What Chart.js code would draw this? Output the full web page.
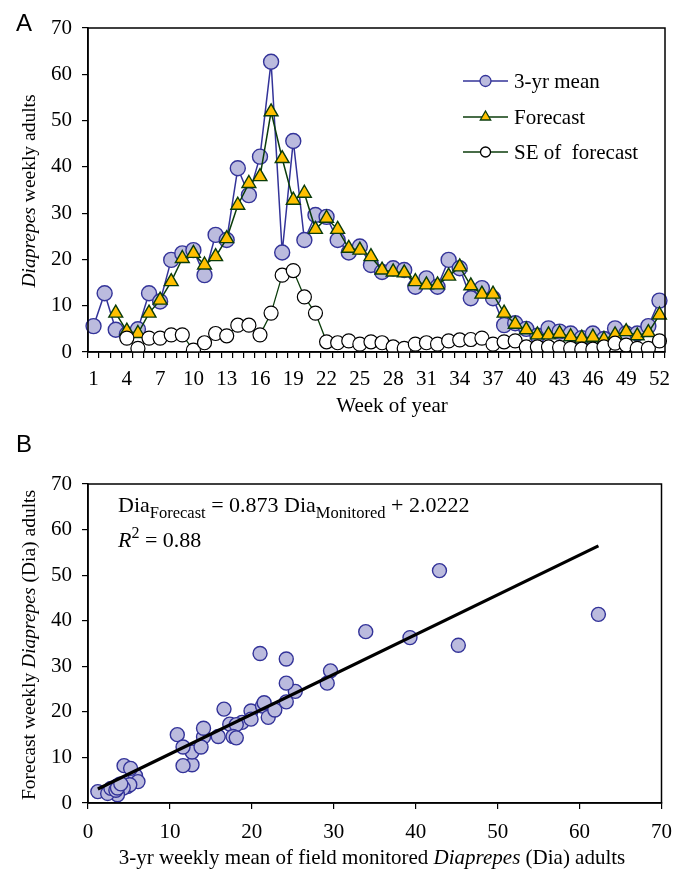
<!DOCTYPE html>
<html><head><meta charset="utf-8">
<script src="https://cdn.jsdelivr.net/npm/chart.js@4.4.1/dist/chart.umd.min.js"></script>
<style>
html,body{margin:0;padding:0;background:#fff;width:683px;height:869px;overflow:hidden}
#ca{position:absolute;left:0;top:0}
#cb{position:absolute;left:0;top:430px}
</style></head><body>
<canvas id="ca" width="683" height="430"></canvas>
<canvas id="cb" width="683" height="439"></canvas>
<script>
// ---------- DATA ----------
const weeks = ['1','2','3','4','5','6','7','8','9','10','11','12','13','14','15','16','17','18','19','20','21','22','23','24','25','26','27','28','29','30','31','32','33','34','35','36','37','38','39','40','41','42','43','44','45','46','47','48','49','50','51','52'];
const weekTickLabels = ['1','4','7','10','13','16','19','22','25','28','31','34','37','40','43','46','49','52'];
const mean3yr = [5.6,12.7,4.8,3.8,4.9,12.7,10.9,19.9,21.3,22.0,16.6,25.3,24.2,39.7,33.9,42.2,62.7,21.5,45.6,24.2,29.6,29.2,24.2,21.5,22.8,18.8,17.3,18.1,17.7,14.1,15.9,14.1,19.9,18.1,11.6,13.8,11.6,5.8,6.2,5.0,3.5,5.1,4.4,4.0,3.0,4.0,2.8,5.1,4.0,4.0,5.6,11.1];
const forecast = [null,null,8.4,4.5,4.0,8.4,11.2,15.2,20.2,21.3,18.8,20.6,24.5,31.7,36.4,37.9,51.9,41.8,32.8,34.3,26.5,28.9,26.5,22.4,22.0,20.6,17.7,17.3,17.1,15.2,14.5,14.5,16.4,18.4,14.3,12.5,12.5,8.4,6.0,4.8,3.7,3.7,4.0,3.3,3.0,3.2,2.7,3.7,4.4,3.5,4.2,8.0];
const seForecast = [null,null,null,3.0,0.8,3.0,3.0,3.7,3.7,0.4,2.0,4.0,3.5,5.8,5.8,3.7,8.4,16.6,17.6,11.9,8.4,2.2,2.0,2.4,1.7,2.2,2.0,1.1,0.8,1.7,2.0,1.7,2.4,2.6,2.7,3.0,1.7,2.2,2.4,1.1,1.1,1.1,1.0,0.8,0.6,0.6,1.1,1.9,1.5,0.8,0.8,2.4];
const yTicksA = [0,10,20,30,40,50,60,70];

// Panel B: monitored 3-yr weekly mean (x) vs forecast (y)
const monitoredB = [12.7,4.8,3.8,4.4,12.7,10.9,19.9,21.3,22.0,16.6,25.3,24.2,39.3,33.9,42.9,62.3,21.0,45.2,24.2,29.6,29.2,24.2,21.5,22.8,18.8,17.3,18.1,17.7,14.1,15.9,14.1,19.9,18.1,11.6,13.8,11.6,5.8,6.1,4.8,3.5,5.1,4.3,3.6,1.2,2.4,2.8,3.4,3.6,4.0,5.2];
const forecastB  = [8.4,4.5,4.0,8.2,11.2,15.0,20.2,21.3,18.8,20.6,24.5,31.6,36.3,37.6,51.0,41.4,32.8,34.6,26.3,29.0,26.3,22.2,22.0,20.4,17.7,17.3,17.2,14.6,14.5,14.6,16.4,18.4,14.3,12.3,12.3,8.2,6.0,4.7,3.6,3.7,4.0,3.3,1.8,2.5,2.1,3.2,2.8,3.3,4.2,7.6];
const fitSlope = 0.873, fitIntercept = 2.0222;
const axisTicksB = [0,10,20,30,40,50,60,70];

// ---------- STYLE ----------
const SERIF = "'Liberation Serif','Times New Roman',serif";
const SANS = "'Liberation Sans',Arial,sans-serif";
const FS = 21;
const FS_V = 19.5;
const MEAN_LINE = '#333399', MEAN_FILL = '#BBBBDE';
const FC_LINE = '#0B3D0B', FC_FILL = '#FFC000';
const SE_LINE = '#0B3D0B';

function drawRich(ctx, segs, x, y, size, align, angle, subSize) {
  ctx.save();
  ctx.translate(x, y);
  if (angle) ctx.rotate(angle);
  let total = 0;
  const parts = segs.map(s => {
    const fs = (s.sub || s.sup) ? (subSize || Math.round(size * 0.7)) : size;
    const f = (s.i ? 'italic ' : '') + fs + 'px ' + SERIF;
    ctx.font = f;
    const w = ctx.measureText(s.t).width;
    total += w;
    return { s, f, w };
  });
  let cx = align === 'center' ? -total / 2 : (align === 'right' ? -total : 0);
  ctx.textBaseline = 'alphabetic';
  ctx.fillStyle = '#000';
  for (const p of parts) {
    ctx.font = p.f;
    const dy = p.s.sub ? size * 0.28 : (p.s.sup ? -size * 0.4 : 0);
    ctx.fillText(p.s.t, cx, dy);
    cx += p.w;
  }
  ctx.restore();
}

const gridCommon = { drawOnChartArea: false, drawTicks: true, tickLength: 6, color: '#000', lineWidth: 1.2 };
const borderCommon = { display: true, color: '#000', width: 1.5 };
const tickFont = { family: SERIF, size: FS };

// ---------- PANEL A ----------
const frameA = {
  id: 'frameA',
  afterDraw(chart) {
    const { ctx, chartArea: a } = chart;
    ctx.save();
    ctx.strokeStyle = '#000'; ctx.lineWidth = 1.5;
    ctx.strokeRect(a.left, a.top, a.right - a.left, a.bottom - a.top);
    ctx.restore();
    ctx.save(); ctx.fillStyle = '#000'; ctx.font = '24px ' + SANS; ctx.textBaseline = 'alphabetic';
    ctx.fillText('A', 16, 31); ctx.restore();
    drawRich(ctx, [{ t: 'Diaprepes', i: true }, { t: ' weekly adults' }], 35, 191, FS_V, 'center', -Math.PI / 2);
    drawRich(ctx, [{ t: 'Week of year' }], 392, 412, FS, 'center');
    const items = [
      { label: '3-yr mean', line: MEAN_LINE, style: 'circle', fill: MEAN_FILL, stroke: MEAN_LINE, r: 5.5, y: 81 },
      { label: 'Forecast', line: FC_LINE, style: 'triangle', fill: FC_FILL, stroke: FC_LINE, r: 6, y: 117 },
      { label: 'SE of  forecast', line: SE_LINE, style: 'circle', fill: '#fff', stroke: '#000', r: 5, y: 152 }
    ];
    for (const it of items) {
      ctx.save();
      ctx.strokeStyle = it.line; ctx.lineWidth = 1.5;
      ctx.beginPath(); ctx.moveTo(463, it.y); ctx.lineTo(508, it.y); ctx.stroke();
      ctx.fillStyle = it.fill; ctx.strokeStyle = it.stroke; ctx.lineWidth = 1.3;
      Chart.helpers.drawPoint(ctx, { pointStyle: it.style, radius: it.r, borderWidth: 1.3, rotation: 0 }, 485.5, it.y);
      ctx.restore();
      drawRich(ctx, [{ t: it.label }], 514, it.y + 7, FS, 'left');
    }
  }
};

new Chart(document.getElementById('ca'), {
  type: 'line',
  data: {
    labels: weeks,
    datasets: [
      { label: 'SE of  forecast', data: seForecast, order: 1, borderColor: SE_LINE, borderWidth: 1.3,
        pointStyle: 'circle', pointRadius: 7, pointBackgroundColor: '#fff', pointBorderColor: '#000', pointBorderWidth: 1.2 },
      { label: 'Forecast', data: forecast, order: 2, borderColor: FC_LINE, borderWidth: 1.5,
        pointStyle: 'triangle', pointRadius: 8, pointBackgroundColor: FC_FILL, pointBorderColor: FC_LINE, pointBorderWidth: 1.4 },
      { label: '3-yr mean', data: mean3yr, order: 3, borderColor: MEAN_LINE, borderWidth: 1.5,
        pointStyle: 'circle', pointRadius: 7.5, pointBackgroundColor: MEAN_FILL, pointBorderColor: MEAN_LINE, pointBorderWidth: 1.4 }
    ]
  },
  options: {
    responsive: false, animation: false, events: [],
    layout: { padding: { top: 28, right: 18, left: 0, bottom: 0 } },
    plugins: { legend: { display: false }, tooltip: { enabled: false } },
    scales: {
      x: {
        type: 'category', offset: true,
        grid: { ...gridCommon, offset: true },
        border: borderCommon,
        ticks: { color: '#000', font: tickFont, padding: 9, autoSkip: false, maxRotation: 0, minRotation: 0,
          callback(v, i) { const l = weeks[i]; return weekTickLabels.includes(l) ? l : ''; } },
        afterFit(s) { s.height = 430 - 352; }
      },
      y: {
        min: yTicksA[0], max: yTicksA[yTicksA.length - 1],
        grid: gridCommon, border: borderCommon,
        ticks: { color: '#000', font: tickFont, padding: 10, stepSize: 10 },
        afterFit(s) { s.width = 88; }
      }
    }
  },
  plugins: [frameA]
});

// ---------- PANEL B ----------
const scatterPts = monitoredB.map((x, i) => ({ x, y: forecastB[i] }));
const xMin = Math.min(...monitoredB), xMax = Math.max(...monitoredB);
const fitPts = [{ x: xMin, y: fitSlope * xMin + fitIntercept }, { x: xMax, y: fitSlope * xMax + fitIntercept }];

const frameB = {
  id: 'frameB',
  afterDraw(chart) {
    const { ctx, chartArea: a } = chart;
    ctx.save();
    ctx.strokeStyle = '#000'; ctx.lineWidth = 1.5;
    ctx.strokeRect(a.left, a.top, a.right - a.left, a.bottom - a.top);
    ctx.restore();
    ctx.save(); ctx.fillStyle = '#000'; ctx.font = '24px ' + SANS; ctx.textBaseline = 'alphabetic';
    ctx.fillText('B', 16, 22); ctx.restore();
    drawRich(ctx, [{ t: 'Forecast weekly ' }, { t: 'Diaprepes', i: true }, { t: ' (Dia) adults' }], 35, 215, FS_V, 'center', -Math.PI / 2);
    drawRich(ctx, [{ t: '3-yr weekly mean of field monitored ' }, { t: 'Diaprepes', i: true }, { t: ' (Dia) adults' }], 372, 434, FS, 'center');
    drawRich(ctx, [{ t: 'Dia' }, { t: 'Forecast', sub: true }, { t: ' = 0.873 Dia' }, { t: 'Monitored', sub: true }, { t: ' + 2.0222' }], 118, 82, 22, 'left', 0, 16.5);
    drawRich(ctx, [{ t: 'R', i: true }, { t: '2', sup: true }, { t: ' = 0.88' }], 118, 117, 22, 'left', 0, 16);
  }
};

new Chart(document.getElementById('cb'), {
  type: 'scatter',
  data: {
    datasets: [
      { type: 'line', label: 'fit', data: fitPts, order: 1, borderColor: '#000', borderWidth: 3.2, pointRadius: 0, fill: false },
      { label: 'points', data: scatterPts, order: 2, pointStyle: 'circle', pointRadius: 7, pointBackgroundColor: MEAN_FILL,
        pointBorderColor: MEAN_LINE, pointBorderWidth: 1.4, showLine: false }
    ]
  },
  options: {
    responsive: false, animation: false, events: [],
    layout: { padding: { top: 54, right: 19, left: 0, bottom: 0 } },
    plugins: { legend: { display: false }, tooltip: { enabled: false } },
    scales: {
      x: {
        type: 'linear', min: axisTicksB[0], max: axisTicksB[axisTicksB.length - 1],
        grid: gridCommon, border: borderCommon,
        ticks: { color: '#000', font: tickFont, padding: 11, stepSize: 10 },
        afterFit(s) { s.height = 439 - 373; }
      },
      y: {
        type: 'linear', min: axisTicksB[0], max: axisTicksB[axisTicksB.length - 1],
        grid: gridCommon, border: borderCommon,
        ticks: { color: '#000', font: tickFont, padding: 10, stepSize: 10 },
        afterFit(s) { s.width = 88; }
      }
    }
  },
  plugins: [frameB]
});
</script>
</body></html>
